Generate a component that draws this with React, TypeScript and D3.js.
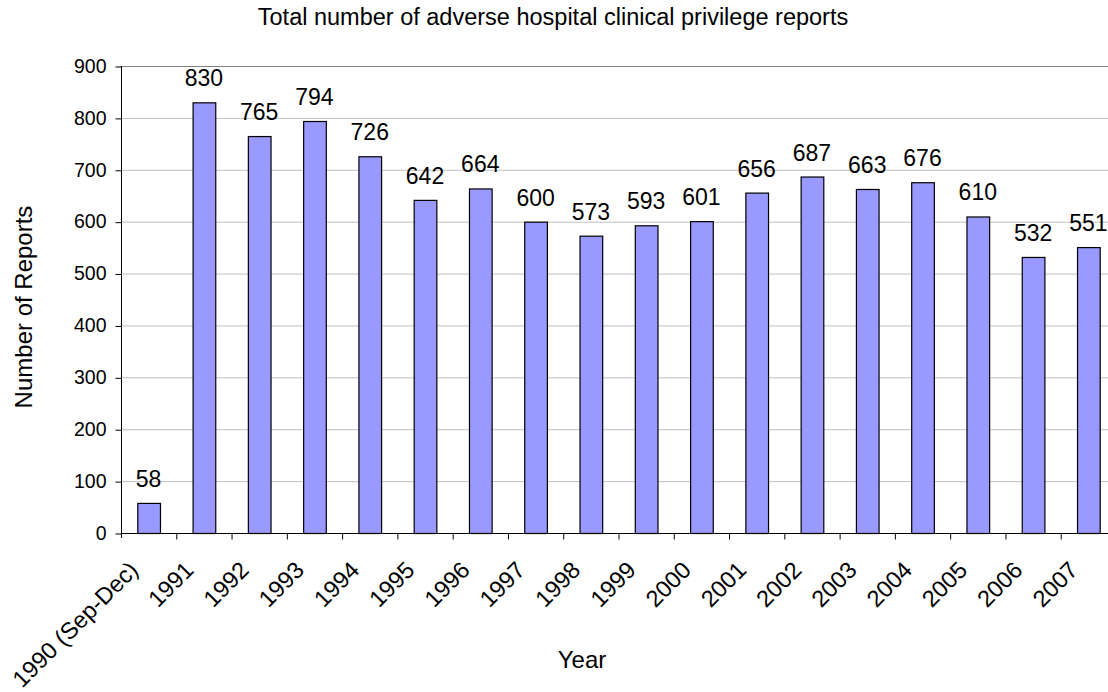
import React, { useEffect, useRef } from 'react';
import * as d3 from 'd3';

const years = [
  '1990 (Sep-Dec)', '1991', '1992', '1993', '1994', '1995', '1996', '1997', '1998',
  '1999', '2000', '2001', '2002', '2003', '2004', '2005', '2006', '2007',
];
const reports = [58, 830, 765, 794, 726, 642, 664, 600, 573, 593, 601, 656, 687, 663, 676, 610, 532, 551];
const yTicks = [0, 100, 200, 300, 400, 500, 600, 700, 800, 900];

function ReportsChart({ width = 1108, height = 692 }) {
  const svgRef = useRef<SVGSVGElement>(null);

  useEffect(() => {
    const svg = d3.select(svgRef.current);
    svg.selectAll('*').remove();
    svg.attr('width', width).attr('height', height);

    const left = 121;
    const right = 1116; // plot runs past the picture edge
    const top = 66;
    const bottom = 533;
    const font = 'Liberation Sans, Arial, sans-serif';

    const data = years.map((y, i) => ({ year: y, value: reports[i] }));

    const x = d3.scaleBand().domain(years).range([left, right]).paddingInner(0.59).paddingOuter(0.295);
    const xb = d3.scaleBand().domain(years).range([left, right]);
    const y = d3.scaleLinear().domain([0, 900]).range([bottom, top]);

    // Gridlines
    svg.append('g')
      .selectAll('line')
      .data(yTicks.filter(t => t > 0))
      .enter()
      .append('line')
      .attr('x1', left)
      .attr('x2', width)
      .attr('y1', d => y(d) + 0.5)
      .attr('y2', d => y(d) + 0.5)
      .attr('stroke', d => (d === 900 ? '#808080' : '#c0c0c0'))
      .attr('stroke-width', 1);

    // Bars
    svg.append('g')
      .selectAll('rect')
      .data(data)
      .enter()
      .append('rect')
      .attr('x', d => x(d.year)! + 0.5)
      .attr('y', d => y(d.value) + 0.5)
      .attr('width', x.bandwidth())
      .attr('height', d => bottom - y(d.value))
      .attr('fill', '#9999ff')
      .attr('stroke', '#000')
      .attr('stroke-width', 1.2);

    // Value labels
    svg.append('g')
      .selectAll('text')
      .data(data)
      .enter()
      .append('text')
      .attr('x', d => x(d.year)! + x.bandwidth() / 2)
      .attr('y', d => y(d.value) - 16)
      .attr('text-anchor', 'middle')
      .attr('font-family', font)
      .attr('font-size', 23)
      .attr('fill', '#000')
      .text(d => d.value);

    // Y axis
    const yAxis = svg.append('g')
      .attr('transform', `translate(${left + 0.5},0)`)
      .call(d3.axisLeft(y).tickValues(yTicks).tickSize(6).tickPadding(9));
    yAxis.selectAll('.tick line').attr('stroke', '#000').attr('transform', 'translate(0,0.5)');
    yAxis.select('.domain').attr('stroke', '#000').attr('d', `M0,${top}V${bottom + 5}`);
    yAxis.selectAll('.tick text')
      .attr('font-family', font)
      .attr('font-size', 19.5)
      .attr('fill', '#000');

    // X axis
    const xAxis = svg.append('g').attr('transform', `translate(0,${bottom + 0.5})`);
    xAxis.append('line')
      .attr('x1', left)
      .attr('x2', width)
      .attr('stroke', '#000');
    xAxis.selectAll('.xtick')
      .data(years.slice(1))
      .enter()
      .append('line')
      .attr('x1', d => xb(d)! + 0.5)
      .attr('x2', d => xb(d)! + 0.5)
      .attr('y1', 0)
      .attr('y2', 6)
      .attr('stroke', '#000');
    xAxis.selectAll('text')
      .data(years)
      .enter()
      .append('text')
      .attr('transform', d => `translate(${xb(d)! + xb.bandwidth() / 2 - 9},${38}) rotate(-45)`)
      .attr('text-anchor', 'end')
      .attr('font-family', font)
      .attr('font-size', 23.5)
      .attr('fill', '#000')
      .text(d => d);

    // Titles
    svg.append('text')
      .attr('x', 553)
      .attr('y', 25)
      .attr('text-anchor', 'middle')
      .attr('font-family', font)
      .attr('font-size', 23.5)
      .text('Total number of adverse hospital clinical privilege reports');

    svg.append('text')
      .attr('x', 582)
      .attr('y', 668)
      .attr('text-anchor', 'middle')
      .attr('font-family', font)
      .attr('font-size', 24)
      .text('Year');

    svg.append('text')
      .attr('transform', `translate(32,${307}) rotate(-90)`)
      .attr('text-anchor', 'middle')
      .attr('font-family', font)
      .attr('font-size', 24)
      .text('Number of Reports');
  }, [width, height]);

  return <svg ref={svgRef} style={{ display: 'block', background: '#fff' }}></svg>;
}

export default function App() {
  return (
    <div>
      <style>{'body{margin:0}'}</style>
      <ReportsChart />
    </div>
  );
}
